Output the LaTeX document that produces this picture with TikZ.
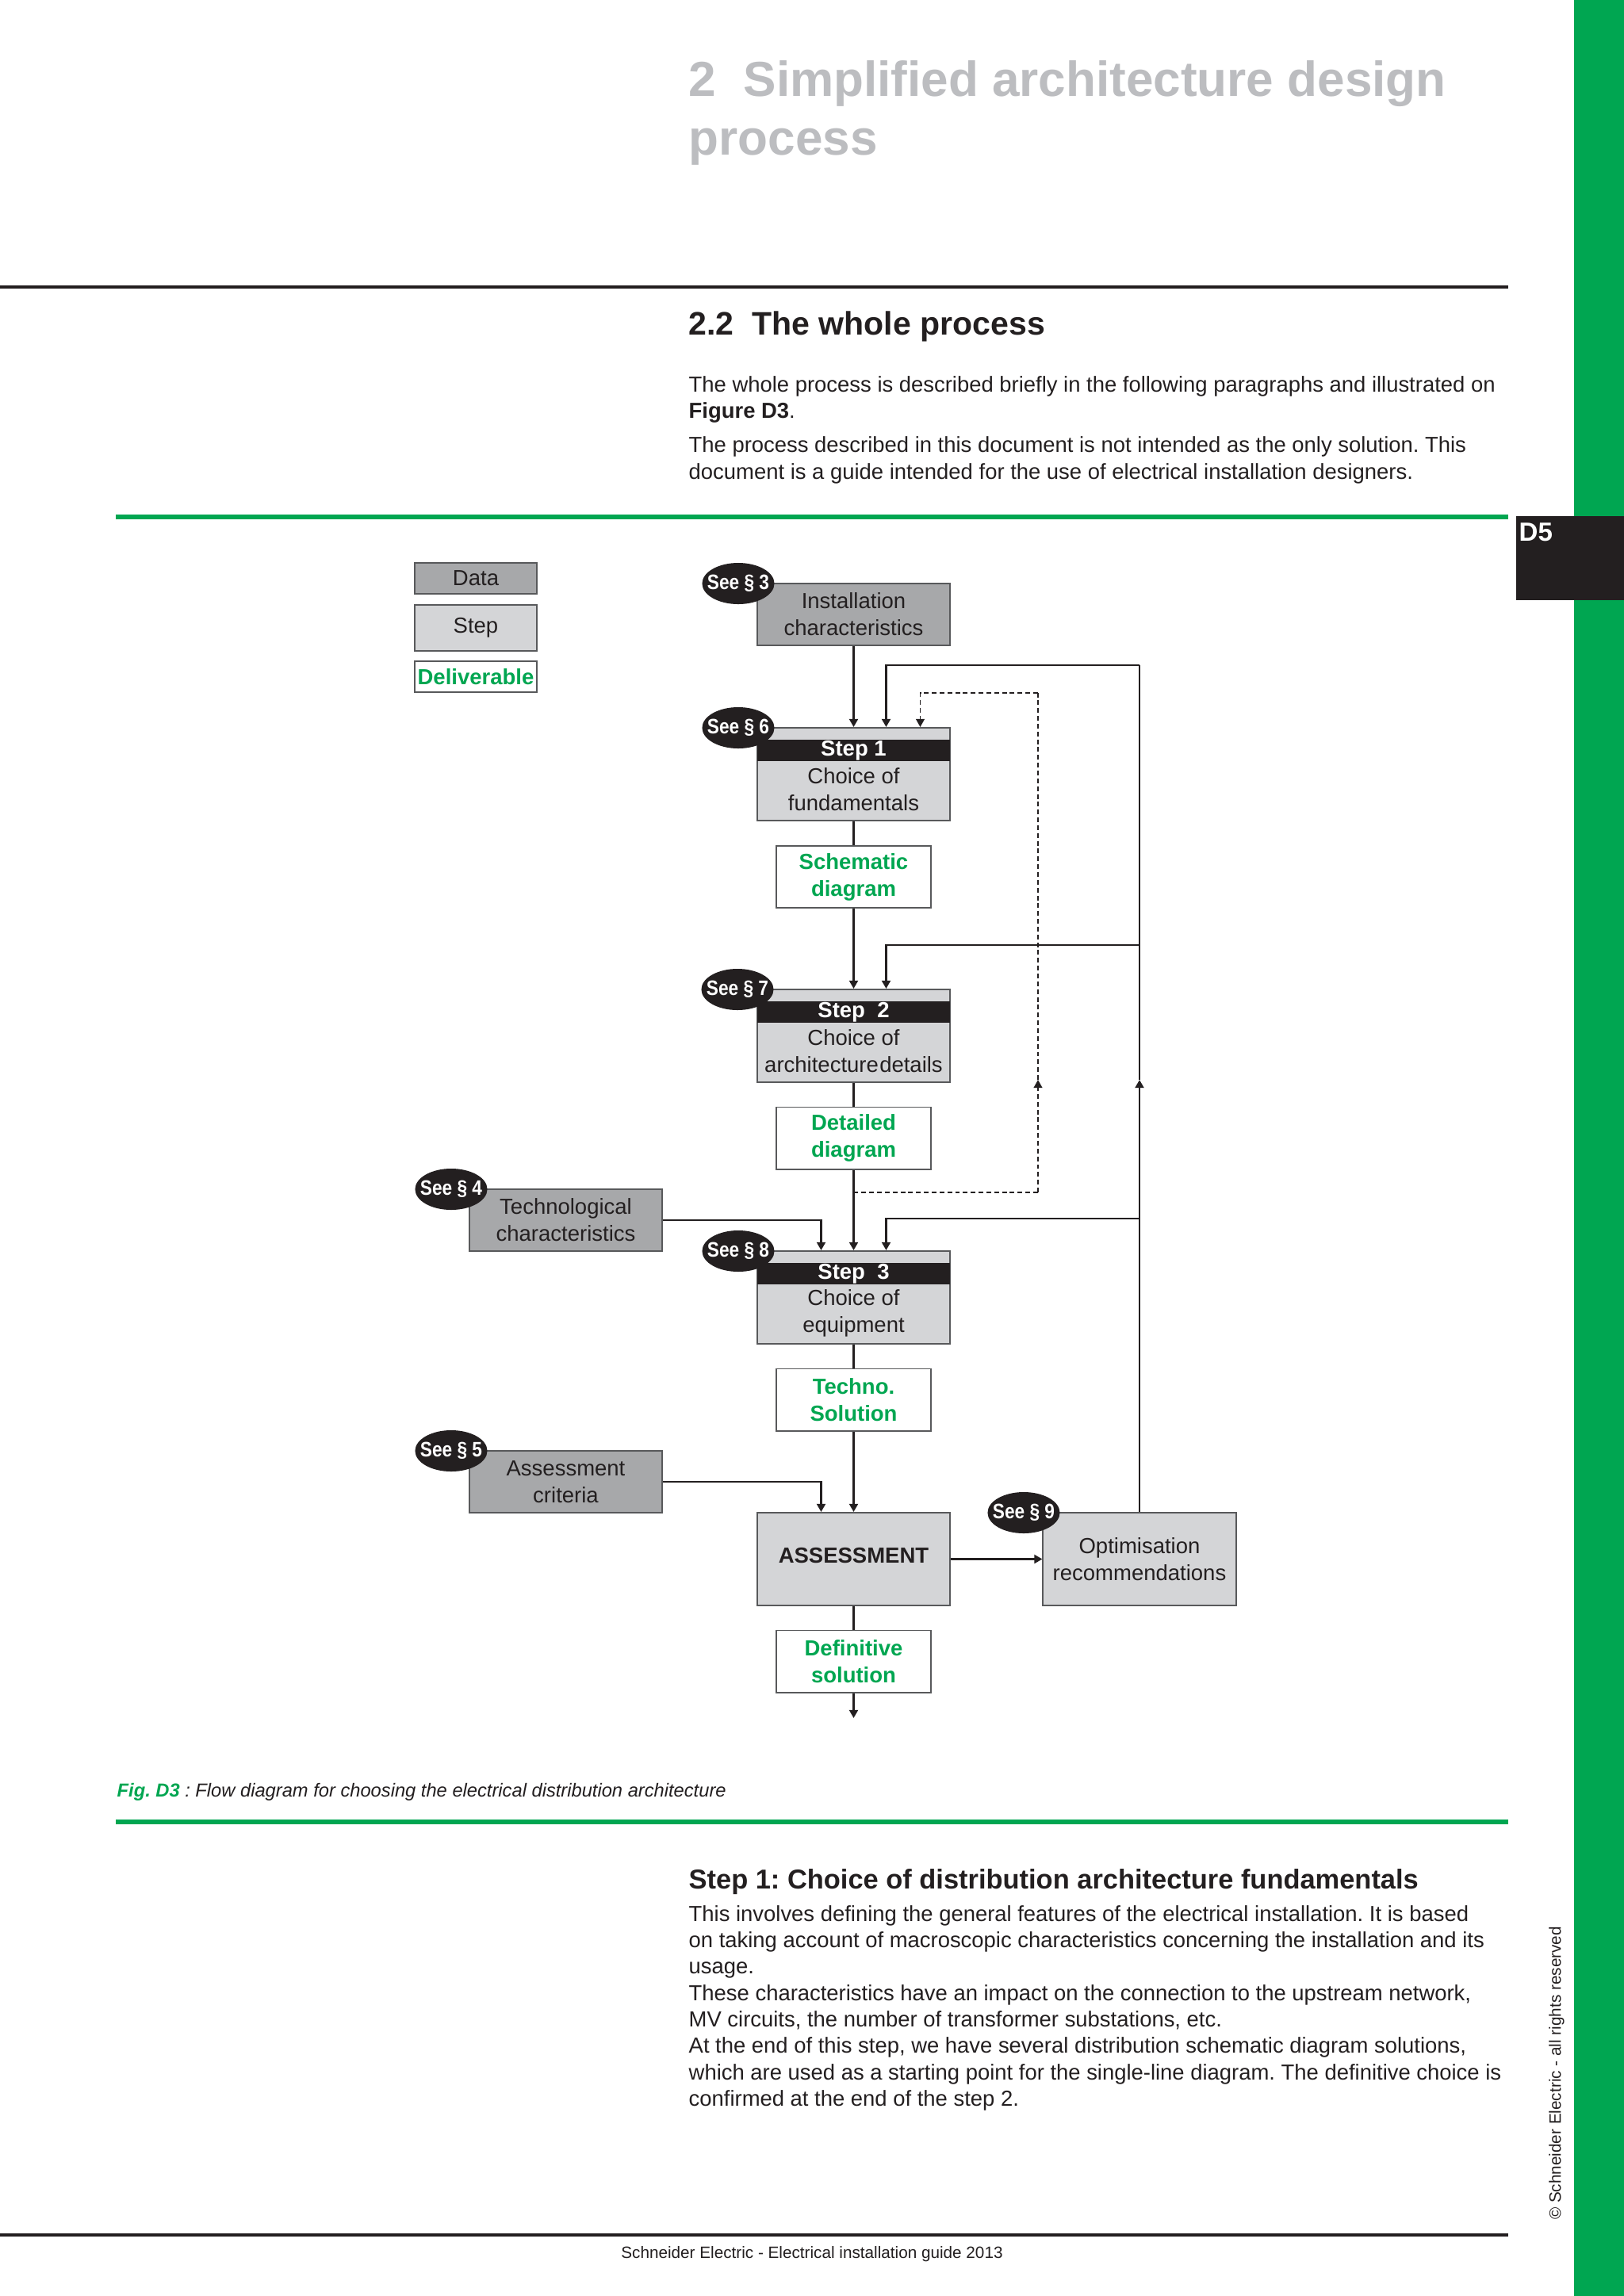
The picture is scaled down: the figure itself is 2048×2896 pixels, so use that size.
\documentclass[tikz,border=0pt]{standalone}
\usepackage{fontspec}
\setmainfont{Liberation Sans}
\usetikzlibrary{arrows.meta,shapes.geometric,calc}
\definecolor{sgreen}{RGB}{0,166,81}
\definecolor{ink}{HTML}{231F20}
\definecolor{datagray}{HTML}{A7A8AA}
\definecolor{stepgray}{HTML}{D4D5D7}
\definecolor{titlegray}{HTML}{BCBDC0}
\definecolor{edgegray}{HTML}{58595B}
\newcommand\pxfont[2]{\fontsize{#1}{#2}\selectfont}
\newcommand\bodyfont{\pxfont{7.8pt}{9.5pt}}
\newcommand\seetext[1]{\scalebox{0.86}[1]{See § #1}}
\frenchspacing
\begin{document}
\begin{tikzpicture}[x=0.01cm,y=-0.01cm,
  box/.style={draw=edgegray,line width=0.55pt,rectangle,inner sep=0pt,align=center,text=ink,font=\pxfont{7.82pt}{9.67pt}},
  databox/.style={box,fill=datagray},
  stepbox/.style={box,fill=stepgray},
  delbox/.style={box,fill=white,text=sgreen,font=\pxfont{7.82pt}{9.67pt}\bfseries},
  band/.style={rectangle,fill=ink,text=white,inner sep=0pt,minimum width=2.43cm,minimum height=0.27cm,font=\pxfont{7.82pt}{9.67pt}\bfseries},
  steptext/.style={inner sep=0pt,align=center,text=ink,font=\pxfont{7.82pt}{9.67pt}},
  seeshape/.style={ellipse,fill=ink,inner sep=0pt,minimum width=0.91cm,minimum height=0.52cm},
  seelabel/.style={inner sep=0pt,text=white,font=\pxfont{7.5pt}{8pt}\bfseries},
  conn/.style={draw=ink,line width=0.71pt},
  arr/.style={-{Triangle[length=2.9pt,width=3.1pt]}},
  dconn/.style={draw=ink,line width=0.45pt,dash pattern=on 1.7pt off 1.1pt},
  txt/.style={inner sep=0pt,anchor=base west,text=ink},
]
\useasboundingbox (0,0) rectangle (2048,2896);
\fill[white] (0,0) rectangle (2048,2896);

% ---------- page frame ----------
\fill[sgreen] (1985,0) rectangle (2048,2896);
\fill[ink] (1912,651) rectangle (2048,757);
\node[txt,text=white,font=\pxfont{9.4pt}{11pt}\bfseries] (d5) at (1915,682) {D5};
\coordinate (r1a) at (0,362); \coordinate (r1b) at (1902,362);
\draw[ink,line width=1.1pt] (r1a) -- (r1b);
\coordinate (g1a) at (146,652); \coordinate (g1b) at (1902,652);
\draw[sgreen,line width=1.7pt] (g1a) -- (g1b);
\coordinate (g2a) at (146,2298); \coordinate (g2b) at (1902,2298);
\draw[sgreen,line width=1.7pt] (g2a) -- (g2b);
\coordinate (r2a) at (0,2819); \coordinate (r2b) at (1902,2819);
\draw[ink,line width=1pt] (r2a) -- (r2b);

\node[txt,text=titlegray,font=\pxfont{17.64pt}{21pt}\bfseries] (title1) at (868,121) {2\ \ Simplified architecture design};
\node[txt,text=titlegray,font=\pxfont{17.64pt}{21pt}\bfseries] (title2) at (868,195) {process};
\node[txt,font=\pxfont{11.67pt}{14pt}\bfseries] (h22) at (868,422) {2.2\ \ The whole process};
\node[txt,font=\bodyfont] (p1) at (868,494) {The whole process is described briefly in the following paragraphs and illustrated on};
\node[txt,font=\bodyfont] (p2) at (868,527) {\bfseries Figure D3\mdseries.};
\node[txt,font=\bodyfont] (p3) at (868,570) {The process described in this document is not intended as the only solution. This};
\node[txt,font=\bodyfont] (p4) at (868,604) {document is a guide intended for the use of electrical installation designers.};

\node[txt,font=\pxfont{6.74pt}{8pt}] (cap) at (147,2266) {{\color{sgreen}\bfseries\itshape Fig. D3} {\itshape : Flow diagram for choosing the electrical distribution architecture}};

\node[txt,font=\pxfont{9.79pt}{12pt}\bfseries] (h3) at (868,2382) {Step 1: Choice of distribution architecture fundamentals};
\node[txt,font=\bodyfont] (q1) at (868,2423) {This involves defining the general features of the electrical installation. It is based};
\node[txt,font=\bodyfont] (q2) at (868,2456) {on taking account of macroscopic characteristics concerning the installation and its};
\node[txt,font=\bodyfont] (q3) at (868,2489) {usage.};
\node[txt,font=\bodyfont] (q4) at (868,2523) {These characteristics have an impact on the connection to the upstream network,};
\node[txt,font=\bodyfont] (q5) at (868,2556) {MV circuits, the number of transformer substations, etc.};
\node[txt,font=\bodyfont] (q6) at (868,2589) {At the end of this step, we have several distribution schematic diagram solutions,};
\node[txt,font=\bodyfont] (q7) at (868,2623) {which are used as a starting point for the single-line diagram. The definitive choice is};
\node[txt,font=\bodyfont] (q8) at (868,2656) {confirmed at the end of the step 2.};

\node[inner sep=0pt,anchor=base,text=ink,font=\pxfont{5.89pt}{7pt}] (foot) at (1024,2848) {Schneider Electric - Electrical installation guide 2013};
\node[inner sep=0pt,rotate=90,text=ink,font=\pxfont{5.89pt}{7pt}] (copy) at (1963,2615) {\textcopyright\ Schneider Electric - all rights reserved};

% ---------- legend ----------
\node[databox,minimum width=1.54cm,minimum height=0.39cm] (lgdata) at (600,729.5) {Data};
\node[stepbox,minimum width=1.54cm,minimum height=0.58cm] (lgstep) at (600,792) {Step};
\node[delbox,minimum width=1.54cm,minimum height=0.39cm] (lgdel) at (600,853.5) {Deliverable};

% ---------- boxes ----------
\node[databox,minimum width=2.43cm,minimum height=0.78cm] (inst) at (1076.5,775) {Installation\\characteristics};

\node[stepbox,minimum width=2.43cm,minimum height=1.17cm] (s1) at (1076.5,976.5) {};
\node[band] (s1b) at (1076.5,946.5) {Step 1};
\node[steptext] (s1t) at (1076.5,996) {Choice of\\fundamentals};

\node[delbox,minimum width=1.95cm,minimum height=0.78cm] (sch) at (1076.5,1106) {Schematic\\diagram};

\node[stepbox,minimum width=2.43cm,minimum height=1.17cm] (s2) at (1076.5,1306.5) {};
\node[band] (s2b) at (1076.5,1276.5) {Step\ \ 2};
\node[steptext] (s2t) at (1076.5,1326) {Choice of\\architecture\hspace{0.05em}details};

\node[delbox,minimum width=1.95cm,minimum height=0.78cm] (det) at (1076.5,1435.5) {Detailed\\diagram};

\node[databox,minimum width=2.43cm,minimum height=0.78cm] (tech) at (713.5,1539) {Technological\\characteristics};

\node[stepbox,minimum width=2.43cm,minimum height=1.17cm] (s3) at (1076.5,1636.5) {};
\node[band] (s3b) at (1076.5,1606.5) {Step\ \ 3};
\node[steptext] (s3t) at (1076.5,1656) {Choice of\\equipment};

\node[delbox,minimum width=1.95cm,minimum height=0.78cm] (tec) at (1076.5,1765.5) {Techno.\\Solution};

\node[databox,minimum width=2.43cm,minimum height=0.78cm] (crit) at (713.5,1869) {Assessment\\criteria};

\node[stepbox,minimum width=2.43cm,minimum height=1.17cm] (ass) at (1076.5,1966.5) {};
\node[steptext,font=\pxfont{7.82pt}{9.67pt}\bfseries] (asst) at (1076.5,1962) {ASSESSMENT};
\node[stepbox,minimum width=2.43cm,minimum height=1.17cm] (opt) at (1437,1966.5) {Optimisation\\recommendations};

\node[delbox,minimum width=1.95cm,minimum height=0.78cm] (def) at (1076.5,2095.5) {Definitive\\solution};
\coordinate (out) at (1076.5,2167);

% ---------- see ellipses ----------
\node[seeshape] (see3) at (931,736) {};
\node[seelabel] (see3t) at (931,736) {\seetext{3}};
\node[seeshape] (see6) at (931,918) {};
\node[seelabel] (see6t) at (931,918) {\seetext{6}};
\node[seeshape] (see7) at (930,1248) {};
\node[seelabel] (see7t) at (930,1248) {\seetext{7}};
\node[seeshape] (see8) at (931,1578) {};
\node[seelabel] (see8t) at (931,1578) {\seetext{8}};
\node[seeshape] (see4) at (569,1500) {};
\node[seelabel] (see4t) at (569,1500) {\seetext{4}};
\node[seeshape] (see5) at (569,1830) {};
\node[seelabel] (see5t) at (569,1830) {\seetext{5}};
\node[seeshape] (see9) at (1291,1908) {};
\node[seelabel] (see9t) at (1291,1908) {\seetext{9}};

% ---------- main flow ----------
\draw[conn,arr] (inst) -- (s1);
\draw[conn] (s1) -- (sch);
\draw[conn,arr] (sch) -- (s2);
\draw[conn] (s2) -- (det);
\draw[conn,arr] (det) -- (s3);
\draw[conn] (s3) -- (tec);
\draw[conn,arr] (tec) -- (ass);
\draw[conn] (ass) -- (def);
\draw[conn,arr] (def) -- (out);
\draw[conn,arr] (ass) -- (opt);
\draw[conn,arr] (tech.east) -| ($(s3.north)+(-41,0)$);
\draw[conn,arr] (crit.east) -| ($(ass.north)+(-41,0)$);

% ---------- feedback (solid) ----------
\coordinate (tm) at (1437,1362);
\coordinate (t1) at (1437,839);
\coordinate (t2) at (1437,1192);
\coordinate (t3) at (1437,1537);
\draw[conn,arr] (opt.north) -- (tm);
\draw[conn] (tm) -- (t1);
\draw[conn,arr] (t1) -| ($(s1.north)+(41,0)$);
\draw[conn,arr] (t2) -| ($(s2.north)+(41,0)$);
\draw[conn,arr] (t3) -| ($(s3.north)+(41,0)$);

% ---------- feedback (dashed) ----------
\coordinate (dj) at (1076.5,1504);
\coordinate (dc) at (1309,1504);
\coordinate (dm) at (1309,1362);
\coordinate (dt) at (1309,874);
\draw[dconn] (dj) -- (dc);
\draw[dconn,arr] (dc) -- (dm);
\draw[dconn] (dm) -- (dt);
\draw[dconn,arr] (dt) -| ($(s1.north)+(84,0)$);
\end{tikzpicture}
\end{document}
